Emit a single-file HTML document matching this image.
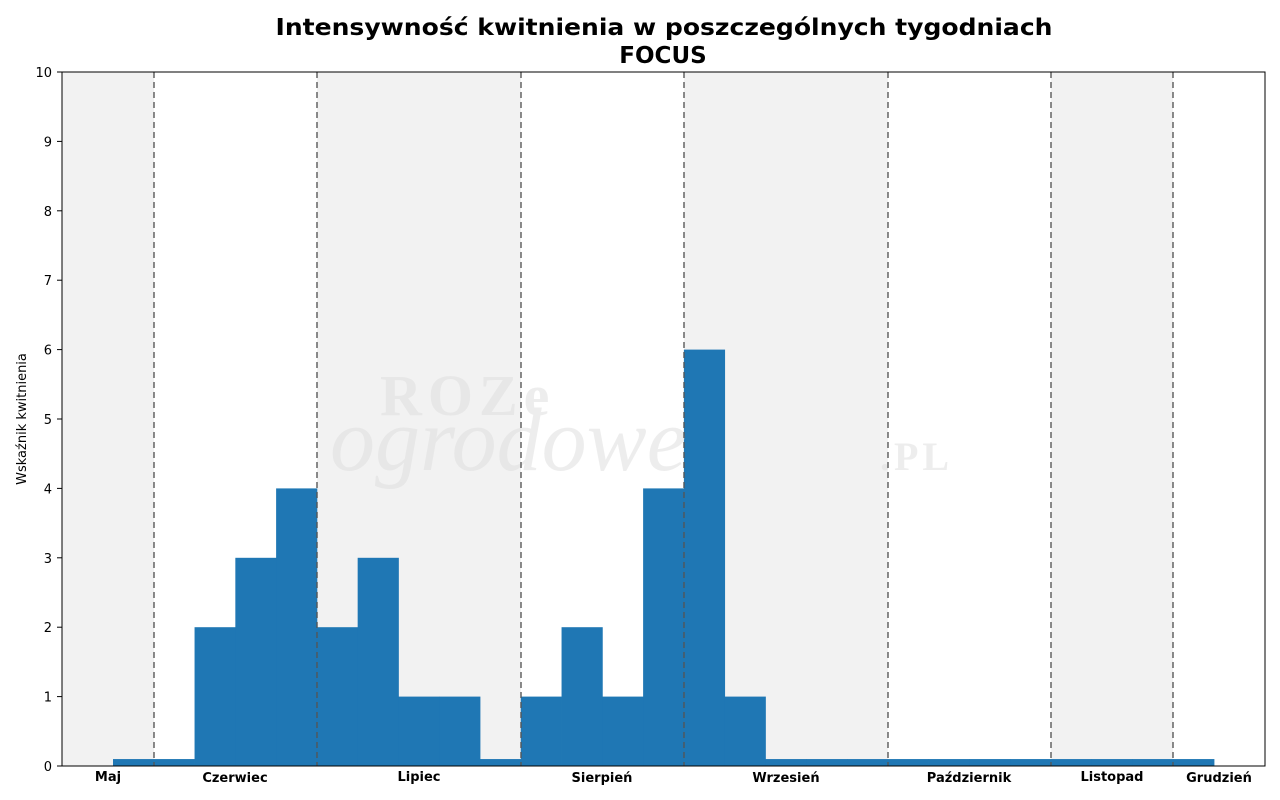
<!DOCTYPE html>
<html><head><meta charset="utf-8"><style>
html,body{margin:0;padding:0;background:#fff;}
svg{display:block;font-family:"DejaVu Sans","Liberation Sans",sans-serif;}
</style></head><body>
<svg width="1280" height="800" xmlns="http://www.w3.org/2000/svg">
<rect width="1280" height="800" fill="#fff"/>
<g fill="#f2f2f2">
<rect x="62" y="72" width="92" height="694"/>
<rect x="317" y="72" width="204" height="694"/>
<rect x="684" y="72" width="204" height="694"/>
<rect x="1051" y="72" width="122" height="694"/>
</g>
<g fill="#1f77b4" id="bars"></g>
<g fill="#dddddd" opacity="0.5">
<text x="380" y="415" font-family="Liberation Serif,serif" font-size="58" font-weight="bold" letter-spacing="6">ROZe</text>
<text x="330" y="470" font-family="Liberation Serif,serif" font-size="90" font-style="italic">ogrodowe</text>
<text x="880" y="470" font-family="Liberation Serif,serif" font-size="40" font-weight="bold" letter-spacing="4">.PL</text>
</g>
<g stroke="#555" stroke-width="1.6" stroke-dasharray="6,4" opacity="0.85">
<line x1="154" y1="72" x2="154" y2="766"/>
<line x1="317" y1="72" x2="317" y2="766"/>
<line x1="521" y1="72" x2="521" y2="766"/>
<line x1="684" y1="72" x2="684" y2="766"/>
<line x1="888" y1="72" x2="888" y2="766"/>
<line x1="1051" y1="72" x2="1051" y2="766"/>
<line x1="1173" y1="72" x2="1173" y2="766"/>
</g>
<rect x="62" y="72" width="1203" height="694" fill="none" stroke="#000" stroke-width="1"/>
<g id="yt" font-size="13" text-anchor="end"></g>
<g font-size="13" font-weight="bold" text-anchor="middle">
<text x="108" y="781">Maj</text>
<text x="235" y="782">Czerwiec</text>
<text x="419" y="781">Lipiec</text>
<text x="602" y="782">Sierpień</text>
<text x="786" y="782">Wrzesień</text>
<text x="969" y="782">Październik</text>
<text x="1112" y="781">Listopad</text>
<text x="1219" y="782">Grudzień</text>
</g>
<text x="26" y="419" font-size="13" text-anchor="middle" transform="rotate(-90 26 419)">Wskaźnik kwitnienia</text>
<g font-size="23" font-weight="bold" text-anchor="middle">
<text x="664" y="35" textLength="777" lengthAdjust="spacingAndGlyphs">Intensywność kwitnienia w poszczególnych tygodniach</text>
<text x="663" y="63">FOCUS</text>
</g>
<script>
var d=[0.1,0.1,2,3,4,2,3,1,1,0.1,1,2,1,4,6,1,0.1,0.1,0.1,0.1,0.1,0.1,0.1,0.1,0.1,0.1,0.1];
var g=document.getElementById('bars'),ns='http://www.w3.org/2000/svg',w=(1214-113)/27,s=69.4;
d.forEach(function(v,i){var r=document.createElementNS(ns,'rect');r.setAttribute('x',113+i*w);r.setAttribute('width',w+0.4);r.setAttribute('y',766-v*s);r.setAttribute('height',v*s);g.appendChild(r);});
var yt=document.getElementById('yt');
for(var k=0;k<=10;k++){var y=766-k*s;var l=document.createElementNS(ns,'line');l.setAttribute('x1',57);l.setAttribute('x2',62);l.setAttribute('y1',y);l.setAttribute('y2',y);l.setAttribute('stroke','#000');yt.appendChild(l);var t=document.createElementNS(ns,'text');t.setAttribute('x',52);t.setAttribute('y',y+5);t.textContent=k;yt.appendChild(t);}
</script>
</svg>
</body></html>
